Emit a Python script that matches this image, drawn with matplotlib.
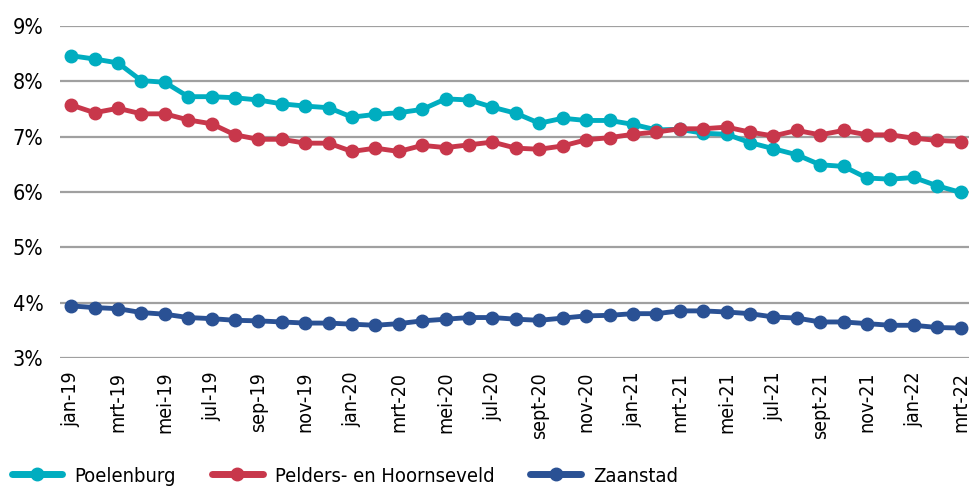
import matplotlib
matplotlib.use('Agg')
from matplotlib import pyplot as plt
from matplotlib import font_manager
import numpy as np

# Data (percentages), monthly jan-19 .. mrt-22
tick_labels = ['jan-19', 'mrt-19', 'mei-19', 'jul-19', 'sep-19', 'nov-19',
               'jan-20', 'mrt-20', 'mei-20', 'jul-20', 'sept-20', 'nov-20',
               'jan-21', 'mrt-21', 'mei-21', 'jul-21', 'sept-21', 'nov-21',
               'jan-22', 'mrt-22']

poelenburg = [8.46, 8.40, 8.33, 8.01, 7.98, 7.72, 7.72, 7.70, 7.66, 7.59,
              7.55, 7.52, 7.35, 7.40, 7.43, 7.49, 7.68, 7.66, 7.53, 7.42,
              7.24, 7.33, 7.29, 7.29, 7.22, 7.12, 7.13, 7.06, 7.04, 6.89,
              6.78, 6.67, 6.49, 6.46, 6.25, 6.23, 6.26, 6.11, 5.99]

pelders = [7.57, 7.43, 7.51, 7.41, 7.41, 7.30, 7.23, 7.03, 6.95, 6.95,
           6.88, 6.88, 6.73, 6.79, 6.73, 6.84, 6.80, 6.85, 6.90, 6.79,
           6.77, 6.83, 6.94, 6.98, 7.04, 7.08, 7.14, 7.14, 7.17, 7.08,
           7.01, 7.11, 7.03, 7.11, 7.03, 7.03, 6.97, 6.93, 6.91]

zaanstad = [3.94, 3.91, 3.89, 3.82, 3.79, 3.73, 3.71, 3.68, 3.67, 3.65,
            3.63, 3.63, 3.61, 3.59, 3.62, 3.67, 3.70, 3.73, 3.73, 3.70,
            3.68, 3.72, 3.76, 3.77, 3.80, 3.80, 3.85, 3.85, 3.83, 3.80,
            3.74, 3.72, 3.65, 3.65, 3.62, 3.59, 3.59, 3.55, 3.54]

series = [('Poelenburg', poelenburg, '#00adc0'),
          ('Pelders- en Hoornseveld', pelders, '#c8374b'),
          ('Zaanstad', zaanstad, '#2a5194')]

# condensed look, like the DIN style font of the original
fp_y = font_manager.FontProperties(family='DejaVu Sans', stretch='condensed', size=15.5)
fp_x = font_manager.FontProperties(family='DejaVu Sans', stretch='condensed', size=14)
fp_leg = font_manager.FontProperties(family='DejaVu Sans', stretch='condensed', size=14.5)

fig = plt.figure(figsize=(9.7, 4.87), dpi=100)
ax = fig.add_axes([0.062, 0.265, 0.938, 0.682])

x = np.arange(len(poelenburg))
for name, vals, col in series:
    ax.plot(x, vals, color=col, linewidth=3.5, marker='o', markersize=9,
            label=name, solid_capstyle='round')

ax.set_ylim(3, 9)
ax.set_xlim(-0.47, 38.4)
ax.set_yticks(range(3, 10))
ax.set_yticklabels([f'{v}%' for v in range(3, 10)], fontproperties=fp_y)
ax.set_xticks(x[::2])
ax.set_xticklabels(tick_labels, rotation=90, fontproperties=fp_x)
ax.tick_params(length=0)
ax.tick_params(axis='y', pad=12)
ax.tick_params(axis='x', pad=10)
for s in ax.spines.values():
    s.set_visible(False)
ax.grid(axis='y', color='#a0a0a0', linewidth=1.6)
ax.set_axisbelow(True)

leg = fig.legend(loc='center left', bbox_to_anchor=(12 / 970, 1 - 476 / 487), ncol=3,
                 frameon=False, prop=fp_leg, borderpad=0, borderaxespad=0,
                 handlelength=2.5, columnspacing=1.8, handletextpad=0.6)
for h in leg.legend_handles:
    h.set_linewidth(5)
    h.set_solid_capstyle('round')

plt.savefig('out.png', dpi=100)
